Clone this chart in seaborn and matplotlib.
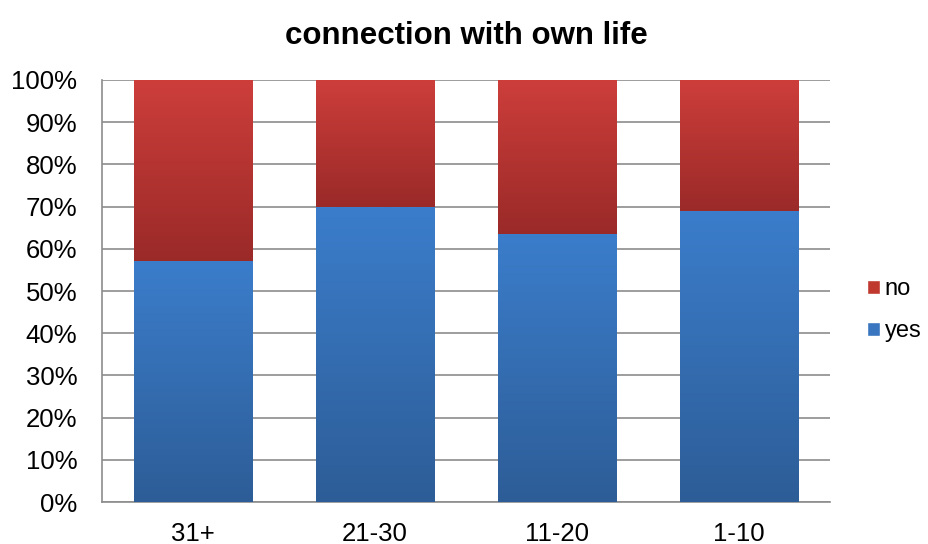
import numpy as np
import pandas as pd
import seaborn as sns
import matplotlib.pyplot as plt
from matplotlib.colors import LinearSegmentedColormap
from matplotlib.patches import Patch

# data (percent)
groups = ['31+', '21-30', '11-20', '1-10']
yes = [57.0, 69.8, 63.4, 68.8]
no = [100 - v for v in yes]

df = pd.DataFrame({'group': groups, 'yes': yes, 'no': no})
df['total'] = df['yes'] + df['no']

sns.set_style('white')
plt.rcParams['font.family'] = ['Liberation Sans', 'DejaVu Sans']
plt.rcParams['text.color'] = 'black'
plt.rcParams['xtick.color'] = 'black'
plt.rcParams['ytick.color'] = 'black'

fig, ax = plt.subplots(figsize=(9.29, 5.44), dpi=100)
fig.subplots_adjust(left=0.11, right=0.893, top=0.853, bottom=0.077)

# stacked: full bar (no) first, yes on top of it
sns.barplot(data=df, x='group', y='total', order=groups, color='#C0392F',
            width=0.65, ax=ax, zorder=3)
n_no = len(ax.patches)
sns.barplot(data=df, x='group', y='yes', order=groups, color='#3A75C0',
            width=0.65, ax=ax, zorder=3)

red_cmap = LinearSegmentedColormap.from_list('r', ['#9A2A28', '#CD3E3B'])
blue_cmap = LinearSegmentedColormap.from_list('b', ['#2D5D97', '#3B7DCB'])
grad = np.linspace(0, 1, 256).reshape(-1, 1)

for i, p in enumerate(ax.patches):
    x0, y0 = p.get_x(), p.get_y()
    w, h = p.get_width(), p.get_height()
    if i < n_no:
        # red part only spans the upper segment
        y0 = yes[i]
        h = 100 - yes[i]
        cmap = red_cmap
    else:
        cmap = blue_cmap
    ax.imshow(grad, cmap=cmap, aspect='auto', origin='lower',
              extent=(x0, x0 + w, y0, y0 + h), zorder=4)
    p.set_facecolor('none')
    p.set_edgecolor('none')

ax.set_xlim(-0.5, 3.5)
ax.set_ylim(0, 100)
ax.set_yticks(range(0, 101, 10))
ax.set_yticklabels([f'{v}%' for v in range(0, 101, 10)])
ax.yaxis.grid(True, color='#8C8C8C', linewidth=1.2, zorder=0)
ax.set_axisbelow(True)

for s in ['top', 'right']:
    ax.spines[s].set_visible(False)
for s in ['left', 'bottom']:
    ax.spines[s].set_color('#8C8C8C')
    ax.spines[s].set_linewidth(1.2)

ax.tick_params(axis='y', labelsize=18.5, length=0, pad=18)
ax.tick_params(axis='x', labelsize=18.5, length=0, pad=14)
ax.set_xlabel('')
ax.set_ylabel('')
ax.set_title('connection with own life', fontsize=22.5, fontweight='bold', pad=26)

handles = [Patch(facecolor='#C0392F', label='no'),
           Patch(facecolor='#3A75C0', label='yes')]
ax.legend(handles=handles, loc='center left', bbox_to_anchor=(1.022, 0.455),
          frameon=False, fontsize=17, handlelength=0.55, handleheight=0.55,
          handletextpad=0.2, labelspacing=0.85)

fig.savefig('out.png', dpi=100)
